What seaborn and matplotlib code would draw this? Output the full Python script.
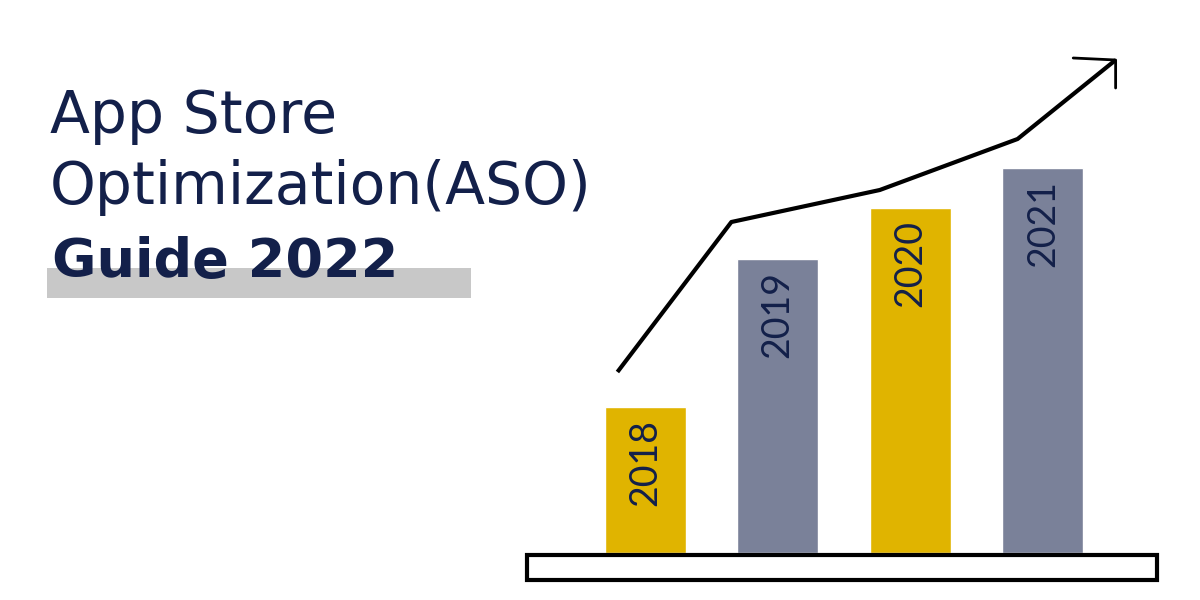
import matplotlib
matplotlib.use("Agg")
import matplotlib.pyplot as plt
import seaborn as sns
import pandas as pd
from matplotlib.patches import Rectangle

years = ["2018", "2019", "2020", "2021"]
heights = [146, 294, 345, 385]
colors = ["#e0b400", "#7a8199", "#e0b400", "#7a8199"]
trend_x = [-0.21, 0.65, 1.77, 2.81, 3.55]
trend_y = [181, 331, 363, 414, 493]
arrow_x = [3.23, 3.55, 3.55]
arrow_y = [495, 493, 465]

sns.set_theme(style="white")
plt.rcParams['font.family'] = ['Lato', 'DejaVu Sans']
W, H = 1200, 600
fig = plt.figure(figsize=(12, 6), dpi=100)
fig.patch.set_facecolor("white")

ax = fig.add_axes([579 / W, (H - 553) / H, 530 / W, 553 / H])
df = pd.DataFrame({"year": years, "h": heights})
sns.barplot(data=df, x="year", y="h", hue="year", palette=colors, width=0.61,
            legend=False, ax=ax, saturation=1)
ax.set_ylim(0, 553)
ax.set_xlim(-0.5, 3.5)
ax.plot(trend_x, trend_y, color="black", lw=3, clip_on=False, solid_capstyle="butt")
ax.plot(arrow_x, arrow_y, color="black", lw=2, clip_on=False)
for i, (y, h) in enumerate(zip(years, heights)):
    ax.text(i, h - 12, y, rotation=90, ha="center", va="top", fontsize=27,
            color="#13204a")
ax.axis("off")

fig.add_artist(Rectangle((527 / W, (H - 580) / H), 630 / W, 25 / H,
                         transform=fig.transFigure, facecolor="white",
                         edgecolor="black", lw=3))

fig.add_artist(Rectangle((47 / W, (H - 298) / H), 424 / W, 30 / H,
                         transform=fig.transFigure, facecolor="#c8c8c8",
                         edgecolor="none"))
navy = "#13204a"
fam = ["DejaVu Sans"]
fig.text(50 / W, (H - 117) / H, "App Store", fontsize=42, color=navy, va="center", family=fam)
fig.text(50 / W, (H - 187) / H, "Optimization(ASO)", fontsize=42, color=navy, va="center", family=fam)
fig.text(52 / W, (H - 262) / H, "Guide 2022", fontsize=39, color=navy, va="center",
         fontweight="bold", family=fam)

fig.savefig("out.png", dpi=100)
